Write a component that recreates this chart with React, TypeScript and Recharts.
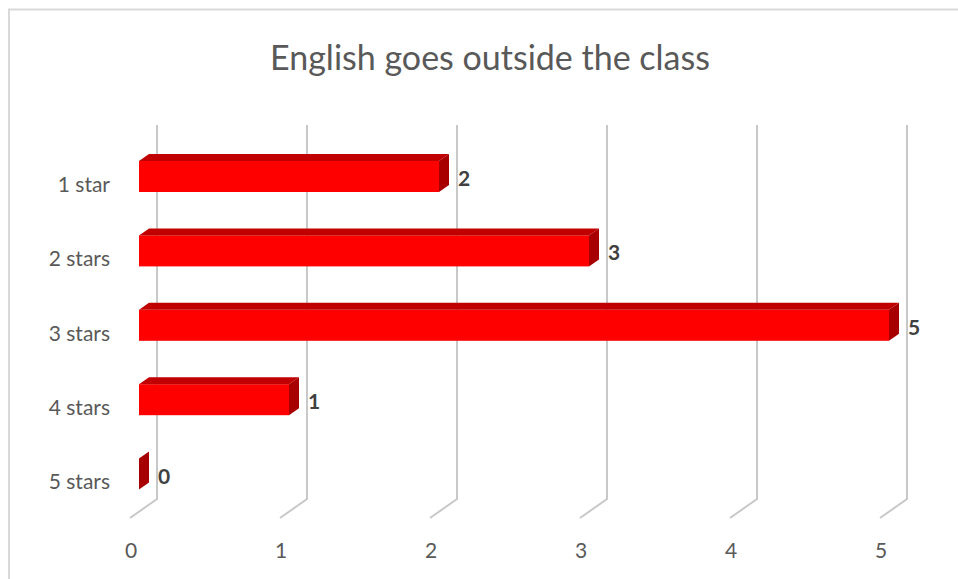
import { Bar, BarChart, CartesianGrid, LabelList, XAxis, YAxis } from "recharts";

const categories = ["1 star", "2 stars", "3 stars", "4 stars", "5 stars"];
const counts = [2, 3, 5, 1, 0];
const xTicks = [0, 1, 2, 3, 4, 5];

const data = categories.map((name, i) => ({ name, count: counts[i] }));

const W = 958;
const H = 579;
const FONT = "Lato, 'Open Sans', sans-serif";
const TEXT = "#595959";
// 3D depth offset of the bars
const DX = 10;
const DY = 7;

function Bar3D(props: any) {
  const { x, y, width, height } = props;
  const w = Math.max(0, width || 0);
  return (
    <g>
      <rect x={x} y={y} width={w} height={height} fill="#ff0000" />
      <polygon
        points={`${x},${y} ${x + DX},${y - DY} ${x + w + DX},${y - DY} ${x + w},${y}`}
        fill="#c00000"
      />
      <polygon
        points={`${x + w},${y} ${x + w + DX},${y - DY} ${x + w + DX},${y + height - DY} ${x + w},${y + height}`}
        fill="#a80000"
      />
    </g>
  );
}

function GridLine3D(props: any) {
  const { x1, y1, y2 } = props;
  return (
    <path
      d={`M${x1 + 18},${y1 - 14} L${x1 + 18},${y2 - 12} L${x1 - 9},${y2 + 7}`}
      fill="none"
      stroke="#c8c8c8"
      strokeWidth={2}
    />
  );
}

function XTick(props: any) {
  const { x, y, payload } = props;
  return (
    <text x={x - 8} y={y + 38} textAnchor="middle" dominantBaseline="central" fill={TEXT} fontSize={21} fontFamily={FONT}>
      {payload.value}
    </text>
  );
}

function YTick(props: any) {
  const { y, payload } = props;
  return (
    <text x={110} y={y + 7} textAnchor="end" dominantBaseline="central" fill={TEXT} fontSize={21} fontFamily={FONT}>
      {payload.value}
    </text>
  );
}

function ValueLabel(props: any) {
  const { x, y, width, height, value } = props;
  return (
    <text
      x={x + Math.max(0, width || 0) + DX + 9}
      y={y + height / 2 + 1}
      dominantBaseline="central"
      fill="#404040"
      fontSize={21}
      fontWeight="bold"
      fontFamily={FONT}
    >
      {value}
    </text>
  );
}

export default function App() {
  return (
    <div style={{ position: "absolute", left: 0, top: 0, width: W, height: H, background: "#fff", overflow: "hidden" }}>
      <BarChart
        width={W}
        height={H}
        data={data}
        layout="vertical"
        margin={{ top: 139, right: 69, bottom: 0, left: 0 }}
        barSize={31}
      >
        <CartesianGrid horizontal={false} vertical={GridLine3D} />
        <XAxis
          type="number"
          domain={[0, 5]}
          ticks={xTicks}
          axisLine={false}
          tickLine={false}
          tickSize={0}
          tickMargin={0}
          height={68}
          tick={XTick}
          interval={0}
        />
        <YAxis
          type="category"
          dataKey="name"
          axisLine={false}
          tickLine={false}
          tickSize={0}
          tickMargin={0}
          width={139}
          tick={YTick}
          interval={0}
        />
        <Bar dataKey="count" shape={Bar3D} isAnimationActive={false}>
          <LabelList dataKey="count" content={ValueLabel} />
        </Bar>
      </BarChart>
      <svg width={W} height={H} style={{ position: "absolute", left: 0, top: 0, pointerEvents: "none" }}>
        <path d={`M9,${H} L9,9.5 L${W},9.5`} fill="none" stroke="#d9d9d9" strokeWidth={2} />
        <text x={490} y={70} textAnchor="middle" fill={TEXT} fontSize={34} fontFamily={FONT}>
          English goes outside the class
        </text>
      </svg>
    </div>
  );
}
